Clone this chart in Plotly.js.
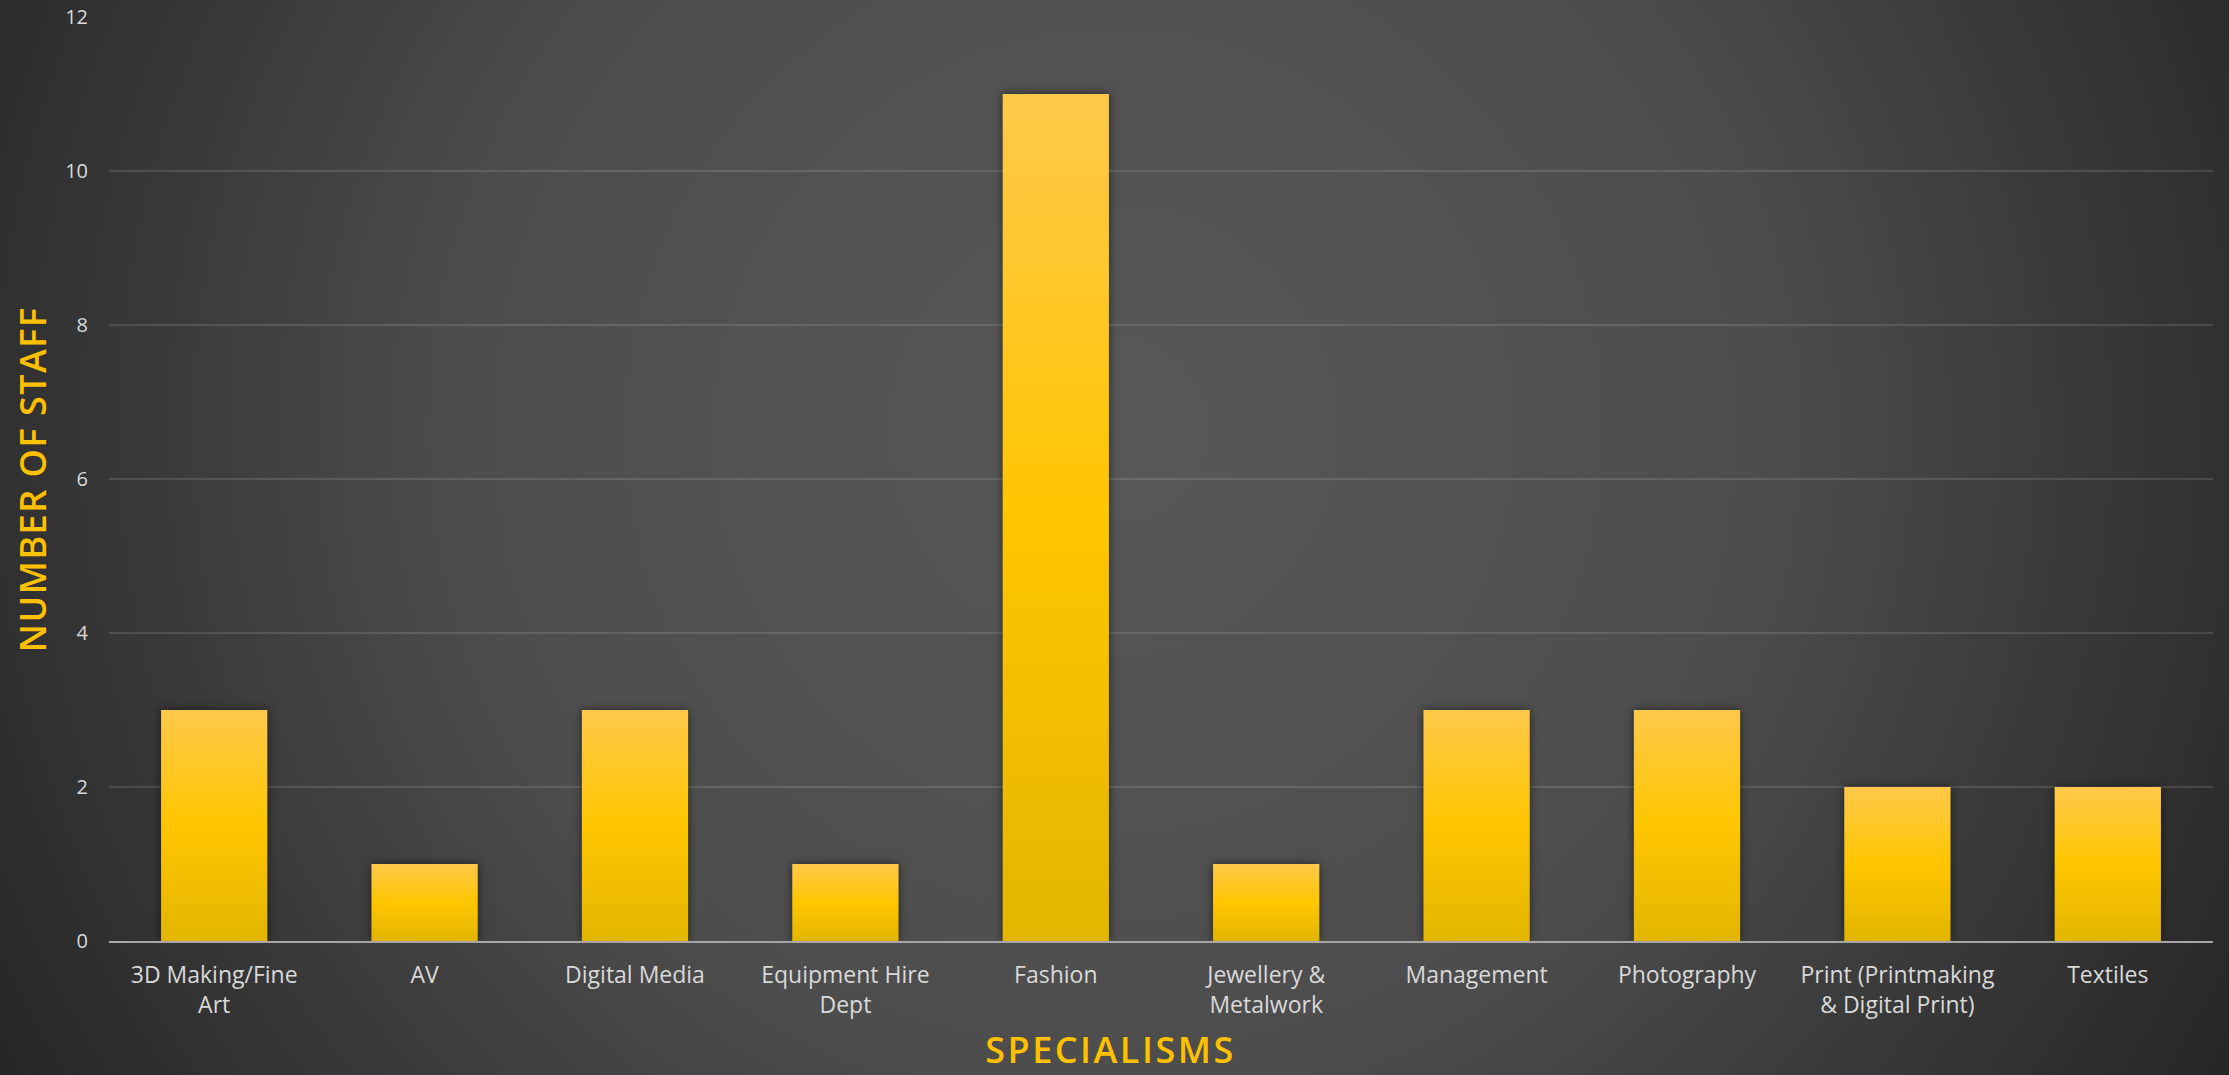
<!DOCTYPE html>
<html>
<head>
<meta charset="utf-8">
<script src="https://cdn.plot.ly/plotly-3.0.1.min.js"></script>
<style>
  html, body { margin: 0; padding: 0; width: 2229px; height: 1075px; overflow: hidden; }
  body { background: radial-gradient(circle farthest-corner at 50% 40%, #585858 0%, #4d4d4d 50%, #262626 100%); }
  #chart { width: 2229px; height: 1075px; }
  .bars .point path { filter: drop-shadow(0px 0px 5px rgba(0,0,0,0.55)); }
  .annotation[data-index="0"] .annotation-text { letter-spacing: 2.5px; }
  .annotation[data-index="1"] .annotation-text { letter-spacing: 1.5px; }
</style>
</head>
<body>
<div id="chart"></div>
<script>
const categories = ["3D Making/Fine Art", "AV", "Digital Media", "Equipment Hire Dept", "Fashion",
                    "Jewellery & Metalwork", "Management", "Photography", "Print (Printmaking & Digital Print)", "Textiles"];
const tickLabels = ["3D Making/Fine<br>Art", "AV", "Digital Media", "Equipment Hire<br>Dept", "Fashion",
                    "Jewellery &<br>Metalwork", "Management", "Photography", "Print (Printmaking<br>& Digital Print)", "Textiles"];
const staffCounts = [3, 1, 3, 1, 11, 1, 3, 3, 2, 2];
const yTicks = [0, 2, 4, 6, 8, 10, 12];
const xTitle = 'SPECIALISMS';
const yTitle = 'NUMBER OF STAFF';

const trace = {
  type: 'bar',
  x: categories,
  y: staffCounts,
  marker: { color: '#FFC000', line: { width: 0 } },
  hoverinfo: 'skip'
};

const titleFont = { size: 36, color: '#FFC000', family: '"Open Sans", sans-serif', weight: 600 };

const layout = {
  width: 2229,
  height: 1075,
  paper_bgcolor: 'rgba(0,0,0,0)',
  plot_bgcolor: 'rgba(0,0,0,0)',
  margin: { l: 109, r: 16, t: 17, b: 134 },
  bargap: 0.495,
  showlegend: false,
  font: { family: '"Open Sans", sans-serif', color: '#d9d9d9' },
  xaxis: {
    type: 'category',
    tickvals: categories,
    ticktext: tickLabels,
    tickfont: { size: 23, color: '#d9d9d9', family: '"Open Sans", sans-serif' },
    ticks: '',
    ticklabelstandoff: 12,
    showgrid: false,
    showline: true,
    linecolor: '#a6a6a6',
    linewidth: 2,
    zeroline: false
  },
  yaxis: {
    range: [0, 12],
    tickvals: yTicks,
    ticktext: yTicks.map(String),
    tickfont: { size: 20, color: '#d9d9d9', family: '"Open Sans", sans-serif' },
    ticks: '',
    ticklabelstandoff: 20,
    showgrid: true,
    gridcolor: 'rgba(255,255,255,0.12)',
    gridwidth: 2,
    zeroline: false,
    showline: false
  },
  annotations: [
    {
      text: xTitle, xref: 'paper', yref: 'paper', x: 0.4762, y: -0.1175,
      xanchor: 'center', yanchor: 'middle', showarrow: false, font: titleFont
    },
    {
      text: yTitle, xref: 'paper', yref: 'paper', x: -0.0361, y: 0.499,
      xanchor: 'center', yanchor: 'middle', textangle: -90, showarrow: false,
      font: titleFont
    }
  ]
};

Plotly.newPlot('chart', [trace], layout, { staticPlot: true, displayModeBar: false }).then(function (gd) {
  const svg = gd.querySelector('svg.main-svg');
  const ns = 'http://www.w3.org/2000/svg';
  let defs = svg.querySelector('defs');
  if (!defs) { defs = document.createElementNS(ns, 'defs'); svg.insertBefore(defs, svg.firstChild); }
  const grad = document.createElementNS(ns, 'linearGradient');
  grad.setAttribute('id', 'barGold');
  grad.setAttribute('x1', '0'); grad.setAttribute('y1', '0');
  grad.setAttribute('x2', '0'); grad.setAttribute('y2', '1');
  [['0%', '#FFC84A'], ['50%', '#FFC600'], ['100%', '#E3B500']].forEach(function (s) {
    const st = document.createElementNS(ns, 'stop');
    st.setAttribute('offset', s[0]);
    st.setAttribute('stop-color', s[1]);
    grad.appendChild(st);
  });
  defs.appendChild(grad);
  gd.querySelectorAll('.bars .point path').forEach(function (p) {
    p.style.fill = 'url(#barGold)';
  });
});
</script>
</body>
</html>
